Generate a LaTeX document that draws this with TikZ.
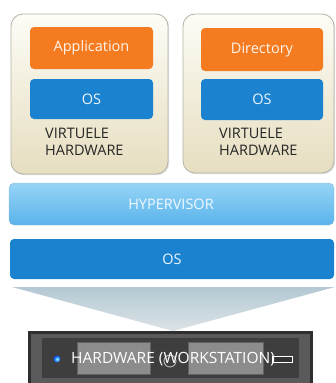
\documentclass[tikz,border=0pt]{standalone}
\usepackage{fontspec}
\setmainfont{Open Sans}
\usetikzlibrary{shadows}
\definecolor{cardtop}{HTML}{FDFCF6}
\definecolor{cardbot}{HTML}{E6DEC0}
\definecolor{cardline}{HTML}{B4B2A6}
\definecolor{appor}{HTML}{F47B20}
\definecolor{osblue}{HTML}{1A82CE}
\definecolor{hvtop}{HTML}{96D4F6}
\definecolor{hvbot}{HTML}{5AB3EB}
\definecolor{funtop}{HTML}{B3C8D4}
\definecolor{funbot}{HTML}{DCE3E5}
\definecolor{hwouter}{HTML}{2F2F2F}
\definecolor{hwframe}{HTML}{5A5A5A}
\definecolor{hwpanel}{HTML}{3E3E3E}
\definecolor{hwbay}{HTML}{8C8C8C}
\tikzset{
  card/.style={rounded corners=12pt, draw=cardline, line width=0.8pt,
    top color=cardtop, bottom color=cardbot,
    drop shadow={shadow xshift=1.2pt, shadow yshift=-1.2pt, opacity=0.25}},
  appbox/.style={rounded corners=4pt, fill=appor},
  osbox/.style={rounded corners=4pt, fill=osblue},
  lbl/.style={font=\fontsize{14.5}{17}\selectfont, inner sep=0pt},
  vhw/.style={align=left, anchor=north west, inner sep=0pt, text=black!85,
    font=\fontsize{14.5}{17}\selectfont},
  hvbar/.style={rounded corners=5pt, draw=hvbot!80!black!60, line width=0.4pt,
    top color=hvtop, bottom color=hvbot},
  bay/.style={fill=hwbay, draw=hwbay!70!black, line width=0.4pt}
}
\begin{document}
\begin{tikzpicture}[x=1pt, y=-1pt]
\useasboundingbox (0,0) rectangle (336,383);

% virtual machine cards
\draw[card] (11,14) rectangle (168,174);
\draw[card] (183,14) rectangle (334,173);

% left VM stack
\path[appbox] (30,27) rectangle (153,69);
\node[lbl, text=white!92!appor] (app) at (91.5,48) {Application};
\path[osbox] (30,79) rectangle (153,119);
\node[lbl, text=white!92!osblue] (os1) at (91.5,99) {OS};
\node[vhw] (vh1) at (45,127.5) {VIRTUELE\\HARDWARE};

% right VM stack
\path[appbox] (201,28) rectangle (323,71);
\node[lbl, text=white!92!appor] (dir) at (262,49.5) {Directory};
\path[osbox] (201,79) rectangle (323,120);
\node[lbl, text=white!92!osblue] (os2) at (262,99.5) {OS};
\node[vhw] (vh2) at (219,128) {VIRTUELE\\HARDWARE};

% hypervisor layer
\path[hvbar] (9,183) rectangle (334,225);
\node[lbl, text=white!85!hvtop] (hv) at (171,204) {HYPERVISOR};

% host operating system
\path[osbox] (10,239) rectangle (334,279);
\node[lbl, text=white!92!osblue] (hostos) at (172,259) {OS};

% funnel down to the hardware
\shade[top color=funtop, bottom color=funbot] (12,287) -- (335,287) -- (173,331) -- cycle;

% workstation hardware
\fill[hwouter] (28,331) rectangle (313,390);
\fill[hwframe] (31,334) rectangle (310,390);
\fill[hwpanel] (42,338) rectangle (299,378);
\draw[bay] (77,342) rectangle (150,374);
\draw[bay] (188,342) rectangle (263,374);
\shade[inner color=white!60!cyan, outer color=blue!70!cyan] (57,359) circle (3.4pt);
\draw[white!80!black, line width=0.8pt] (170,361) circle (6pt);
\draw[fill=black!80, draw=white!75, line width=0.6pt] (272,356) rectangle (292,362);
\node[font=\fontsize{15.5}{17}\selectfont, inner sep=0pt, text=white!92, anchor=west] (hw) at (71,359) {HARDWARE (WORKSTATION)};
\end{tikzpicture}
\end{document}
